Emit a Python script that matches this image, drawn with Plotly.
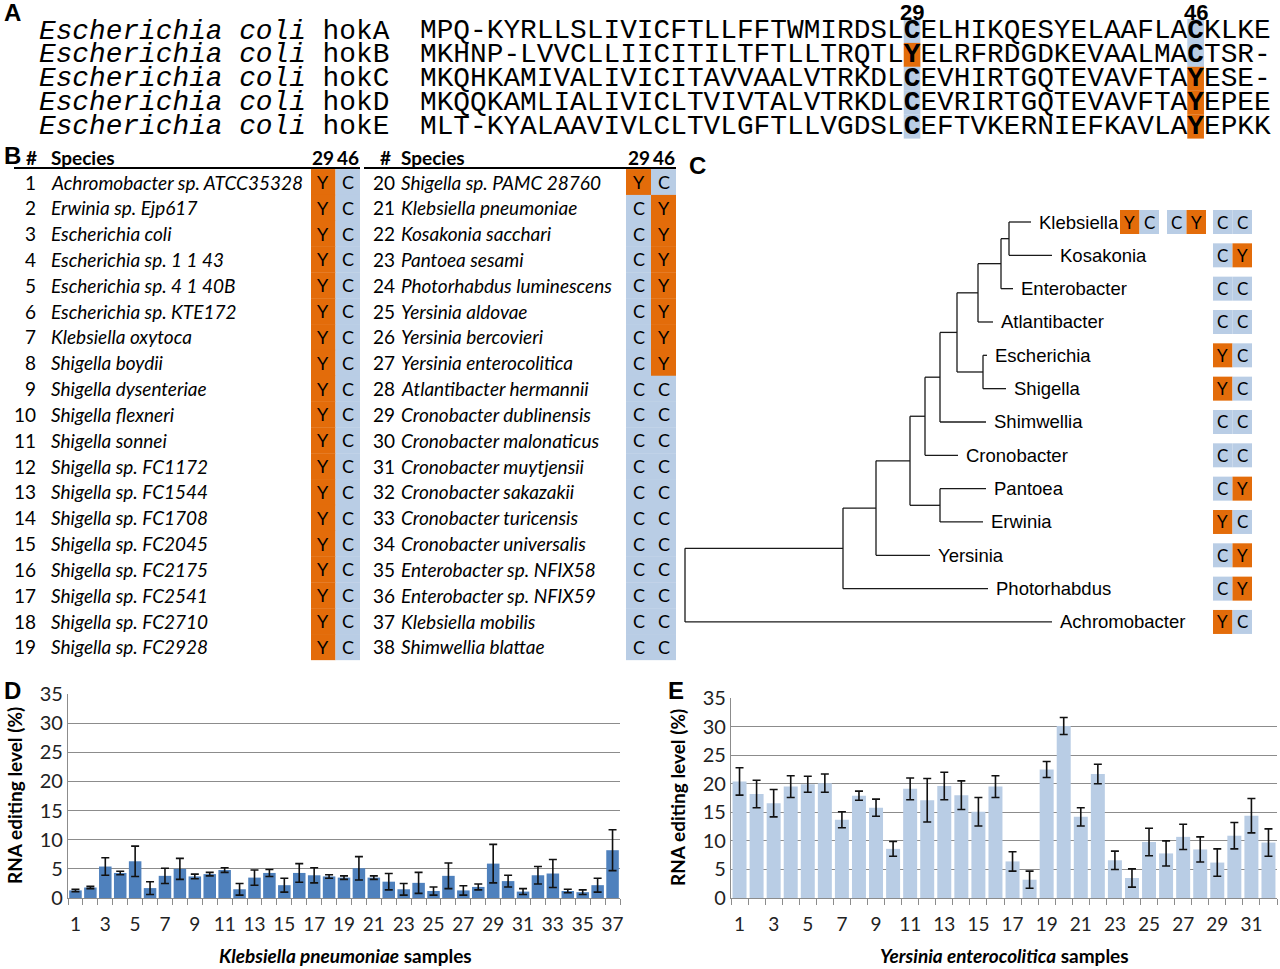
import plotly.graph_objects as go

# ---------------- data ----------------
hok_species = "Escherichia coli"
hok_genes = ["hokA", "hokB", "hokC", "hokD", "hokE"]
hok_seqs = [
    "MPQ-KYRLLSLIVICFTLLFFTWMIRDSLCELHIKQESYELAAFLACKLKE",
    "MKHNP-LVVCLLIICITILTFTLLTRQTLYELRFRDGDKEVAALMACTSR-",
    "MKQHKAMIVALIVICITAVVAALVTRKDLCEVHIRTGQTEVAVFTAYESE-",
    "MKQQKAMLIALIVICLTVIVTALVTRKDLCEVRIRTGQTEVAVFTAYEPEE",
    "MLT-KYALAAVIVLCLTVLGFTLLVGDSLCEFTVKERNIEFKAVLAYEPKK",
]
site_cols = [29, 46]
site_labels = ["29", "46"]

tab_species = [
    "Achromobacter sp. ATCC35328", "Erwinia sp. Ejp617", "Escherichia coli",
    "Escherichia sp. 1 1 43", "Escherichia sp. 4 1 40B", "Escherichia sp. KTE172",
    "Klebsiella oxytoca", "Shigella boydii", "Shigella dysenteriae", "Shigella flexneri",
    "Shigella sonnei", "Shigella sp. FC1172", "Shigella sp. FC1544", "Shigella sp. FC1708",
    "Shigella sp. FC2045", "Shigella sp. FC2175", "Shigella sp. FC2541", "Shigella sp. FC2710",
    "Shigella sp. FC2928", "Shigella sp. PAMC 28760", "Klebsiella pneumoniae",
    "Kosakonia sacchari", "Pantoea sesami", "Photorhabdus luminescens", "Yersinia aldovae",
    "Yersinia bercovieri", "Yersinia enterocolitica", "Atlantibacter hermannii",
    "Cronobacter dublinensis", "Cronobacter malonaticus", "Cronobacter muytjensii",
    "Cronobacter sakazakii", "Cronobacter turicensis", "Cronobacter universalis",
    "Enterobacter sp. NFIX58", "Enterobacter sp. NFIX59", "Klebsiella mobilis",
    "Shimwellia blattae",
]
tab_res29 = list("YYYYYYYYYYYYYYYYYYYYCCCCCCCCCCCCCCCCCC")
tab_res46 = list("CCCCCCCCCCCCCCCCCCCCYYYYYYYCCCCCCCCCCC")

# phylogeny: (node depth, [children]); leaves are genus names
tree = (0.0, [
    (1.58, [
        (1.91, [
            (2.25, [
                (2.40, [
                    (2.55, [
                        (2.72, [
                            (2.93, [
                                (3.16, [(3.24, ["Klebsiella", "Kosakonia"]), "Enterobacter"]),
                                "Atlantibacter"]),
                            (2.98, ["Escherichia", "Shigella"])]),
                        "Shimwellia"]),
                    "Cronobacter"]),
                (2.55, ["Pantoea", "Erwinia"])]),
            "Yersinia"]),
        "Photorhabdus"]),
    "Achromobacter"])
leaf_tip = {"Klebsiella": 3.46, "Kosakonia": 3.67, "Enterobacter": 3.28, "Atlantibacter": 3.08,
            "Escherichia": 3.02, "Shigella": 3.21, "Shimwellia": 3.01, "Cronobacter": 2.73,
            "Pantoea": 3.01, "Erwinia": 2.98, "Yersinia": 2.45, "Photorhabdus": 3.03,
            "Achromobacter": 3.67}
genus_res = {"Klebsiella": ["YC", "CY", "CC"], "Kosakonia": ["CY"], "Enterobacter": ["CC"],
             "Atlantibacter": ["CC"], "Escherichia": ["YC"], "Shigella": ["YC"],
             "Shimwellia": ["CC"], "Cronobacter": ["CC"], "Pantoea": ["CY"], "Erwinia": ["YC"],
             "Yersinia": ["CY"], "Photorhabdus": ["CY"], "Achromobacter": ["YC"]}

kp_mean = [1.3, 1.8, 5.4, 4.3, 6.3, 1.7, 3.8, 5.0, 3.7, 4.1, 4.8, 1.5, 3.5, 4.3, 2.2, 4.3, 3.9, 3.7, 3.5,
           5.1, 3.5, 2.8, 1.5, 2.6, 1.2, 3.8, 1.3, 1.9, 5.9, 2.9, 1.1, 3.9, 4.2, 1.2, 1.0, 2.2, 8.2]
kp_err = [0.2, 0.2, 1.5, 0.3, 2.6, 1.1, 1.3, 1.8, 0.4, 0.3, 0.4, 1.0, 1.3, 0.6, 1.2, 1.6, 1.3, 0.3, 0.3,
          2.0, 0.3, 1.4, 1.0, 1.8, 0.7, 2.2, 0.8, 0.5, 3.3, 1.0, 0.5, 1.5, 2.4, 0.3, 0.4, 1.2, 3.5]
ye_mean = [20.4, 18.2, 16.6, 19.5, 19.9, 20.1, 13.7, 17.9, 15.8, 8.6, 19.1, 17.1, 19.6, 18.0, 15.1, 19.5,
           6.4, 3.2, 22.5, 30.1, 14.2, 21.7, 6.6, 3.5, 9.8, 7.8, 10.7, 8.5, 6.2, 10.9, 14.4, 9.7]
ye_err = [2.4, 2.4, 2.4, 1.9, 1.4, 1.6, 1.4, 0.8, 1.5, 1.3, 1.9, 3.8, 2.4, 2.5, 2.5, 1.9,
          1.7, 1.5, 1.4, 1.5, 1.6, 1.7, 1.6, 1.6, 2.4, 2.2, 2.2, 2.2, 2.4, 2.3, 3.0, 2.4]

# ---------------- style ----------------
W, H = 1280, 969
ORANGE = "#E36C0A"
BLUE = "#B9CDE5"
DARKBLUE = "#4F81BD"
GRID = "#8C8C8C"
CAL = "Lato, 'Open Sans', sans-serif"
MONO = "'Liberation Mono', 'Courier New', monospace"
NARROW = "'Liberation Sans', Arial, sans-serif"
ARIAL = "'Liberation Sans', Arial, sans-serif"
resc = {"Y": ORANGE, "C": BLUE}

fig = go.Figure()
ann = []
shapes = []


def A(x, y, text, size=19, family=CAL, xanchor="left", ref="3", **kw):
    ann.append(dict(x=x, y=y, xref="x" + ref, yref="y" + ref, text=text, showarrow=False,
                    xanchor=xanchor, yanchor="middle", borderpad=0,
                    font=dict(size=size, family=family, color="black"), **kw))


def R(x0, x1, y0, y1, color, ref="3"):
    shapes.append(dict(type="rect", xref="x" + ref, yref="y" + ref, x0=x0, x1=x1, y0=y0, y1=y1,
                       fillcolor=color, line=dict(width=0), layer="below"))


# ---------------- panel letters ----------------
for lab, x, y in [("A", 12, 12), ("B", 12, 155), ("C", 697, 165), ("D", 12, 690), ("E", 676, 690)]:
    A(x, y, "<b>%s</b>" % lab, size=24, family=ARIAL, xanchor="center")

# ---------------- panel A ----------------
cw = 16.68
seq_x0 = 420
for i, (g, s) in enumerate(zip(hok_genes, hok_seqs)):
    yc = 31 + 23.9 * i
    A(38, yc, "<i>%s</i> %s" % (hok_species, g), size=27.8, family=MONO)
    fig.add_trace(go.Scatter(
        x=[seq_x0 + (j + 0.5) * cw for j in range(len(s))], y=[yc] * len(s), mode="text",
        text=[("<b>%s</b>" % ch) if j in site_cols else ch for j, ch in enumerate(s)],
        textposition="middle center", textfont=dict(family=MONO, size=27.8, color="black"),
        xaxis="x3", yaxis="y3", showlegend=False, hoverinfo="skip"))
    for c in site_cols:
        R(seq_x0 + c * cw, seq_x0 + (c + 1) * cw, yc - 12, yc + 12, resc.get(s[c], BLUE))
for c, lab in zip(site_cols, site_labels):
    A(seq_x0 + (c + 0.5) * cw, 12.5, "<b>%s</b>" % lab, size=22, family=NARROW, xanchor="center")

# ---------------- panel B ----------------
row_h = 25.83
blocks = [dict(num_x=37, sp_x=50, c29=311, c46=335.5, cw=24.5, hash_x=31, line=(14, 360)),
          dict(num_x=396, sp_x=400, c29=626, c46=651, cw=25, hash_x=385, line=(364, 676))]
for b in blocks:
    A(b["hash_x"], 157, "<b>#</b>", xanchor="center")
    A(b["sp_x"], 157, "<b>Species</b>")
    A(b["c29"] + b["cw"] / 2, 157, "<b>29</b>", xanchor="center")
    A(b["c46"] + b["cw"] / 2, 157, "<b>46</b>", xanchor="center")
    shapes.append(dict(type="line", xref="x3", yref="y3", x0=b["line"][0], x1=b["line"][1],
                       y0=168, y1=168, line=dict(color="black", width=2)))
n_half = 19
for k, sp in enumerate(tab_species):
    b = blocks[0] if k < n_half else blocks[1]
    yc = 182 + row_h * (k % n_half)
    A(b["num_x"], yc, str(k + 1), xanchor="right")
    A(b["sp_x"], yc, "<i>%s</i>" % sp)
    for cx, r in [(b["c29"], tab_res29[k]), (b["c46"], tab_res46[k])]:
        R(cx, cx + b["cw"], yc - row_h / 2, yc + row_h / 2 + 0.3, resc[r])
        A(cx + b["cw"] / 2, yc, r, size=18, xanchor="center")

# ---------------- panel C (tree) ----------------
tx, ty = [], []
leaf_rows = {}


def draw(node):
    if isinstance(node, str):
        leaf_rows[node] = len(leaf_rows)
        return leaf_rows[node], leaf_tip[node]
    x, kids = node
    ys = []
    for kid in kids:
        yk, xk = draw(kid)
        tx.extend([x, xk, None]); ty.extend([yk, yk, None])
        ys.append(yk)
    tx.extend([x, x, None]); ty.extend([min(ys), max(ys), None])
    return sum(ys) / len(ys), x


draw(tree)
fig.add_trace(go.Scatter(x=tx, y=ty, mode="lines", line=dict(color="#1a1a1a", width=1.3),
                         xaxis="x4", yaxis="y4", showlegend=False, hoverinfo="skip"))
pair_x = [4.35, 4.82, 5.28]
bw = 0.195
for g, r in leaf_rows.items():
    A(leaf_tip[g] + 0.07, r, g, size=18.5, family=NARROW, ref="4")
    pairs = genus_res[g]
    for p, pr in enumerate(pairs):
        px = pair_x[len(pair_x) - len(pairs) + p]
        for q, ch in enumerate(pr):
            R(px + q * bw, px + (q + 1) * bw, r - 0.36, r + 0.36, resc[ch], ref="4")
            A(px + (q + 0.5) * bw, r, ch, size=17, xanchor="center", ref="4")

# ---------------- panels D & E ----------------
kp_cats = [str(i + 1) for i in range(len(kp_mean))]
ye_cats = [str(i + 1) for i in range(len(ye_mean))]
fig.add_trace(go.Bar(x=kp_cats, y=kp_mean, width=0.84, marker=dict(color=DARKBLUE, line=dict(width=0)),
                     error_y=dict(type="data", array=kp_err, color="#111", thickness=1.6, width=4),
                     xaxis="x", yaxis="y", showlegend=False, hoverinfo="skip"))
fig.add_trace(go.Bar(x=ye_cats, y=ye_mean, width=0.82, marker=dict(color=BLUE, line=dict(width=0)),
                     error_y=dict(type="data", array=ye_err, color="#111", thickness=1.6, width=4),
                     xaxis="x2", yaxis="y2", showlegend=False, hoverinfo="skip"))


def xax(dom, cats, anchor):
    return dict(domain=dom, anchor=anchor, type="category", tickson="boundaries", ticks="outside",
                ticklen=6, tickcolor=GRID, tickwidth=1.3, showline=True, linecolor=GRID, linewidth=1.3,
                tickmode="array", tickvals=cats, tickangle=0, automargin=False, ticklabelstandoff=9,
                ticktext=[c if int(c) % 2 == 1 else "" for c in cats],
                tickfont=dict(family=CAL, size=19, color="#222"), showgrid=False, zeroline=False,
                fixedrange=True)


def yax(dom, anchor):
    return dict(domain=dom, anchor=anchor, range=[0, 35], dtick=5, showgrid=True, gridcolor=GRID,
                gridwidth=1.3, showline=True, linecolor=GRID, linewidth=1.3, ticks="", zeroline=False,
                automargin=False, tickfont=dict(family=CAL, size=20, color="#222"), fixedrange=True)


def ydom(px_bottom, px_top):
    return [(H - px_bottom) / H, (H - px_top) / H]


hidden = dict(visible=False, fixedrange=True, showgrid=False, zeroline=False, automargin=False)
fig.update_layout(
    width=W, height=H, margin=dict(l=0, r=0, t=0, b=0, pad=0, autoexpand=False),
    paper_bgcolor="white", plot_bgcolor="rgba(0,0,0,0)",
    xaxis=xax([68 / W, 620 / W], kp_cats, "y"), yaxis=yax(ydom(898, 694), "x"),
    xaxis2=xax([731 / W, 1277 / W], ye_cats, "y2"), yaxis2=yax(ydom(898, 698), "x2"),
    xaxis3=dict(domain=[0, 1], range=[0, W], anchor="y3", **hidden),
    yaxis3=dict(domain=[0, 1], range=[H, 0], anchor="x3", **hidden),
    xaxis4=dict(domain=[0, 1], range=[-6.85, 5.95], anchor="y4", **hidden),
    yaxis4=dict(domain=[0, 1], range=[(H - 222) / 33.33, -222 / 33.33], anchor="x4", **hidden),
)

# axis titles
A(14, 796, "<b>RNA editing level (%)</b>", size=19, xanchor="center", textangle=-90)
A(677, 798, "<b>RNA editing level (%)</b>", size=19, xanchor="center", textangle=-90)
A(345, 955, "<b><i>Klebsiella pneumoniae</i> samples</b>", size=19, xanchor="center")
A(1004, 955, "<b><i>Yersinia enterocolitica</i> samples</b>", size=19, xanchor="center")

fig.update_layout(annotations=ann, shapes=shapes)
fig.write_html("out.html", config={"displayModeBar": False},
               post_script="document.body.style.margin='0';document.body.style.overflow='hidden';")
